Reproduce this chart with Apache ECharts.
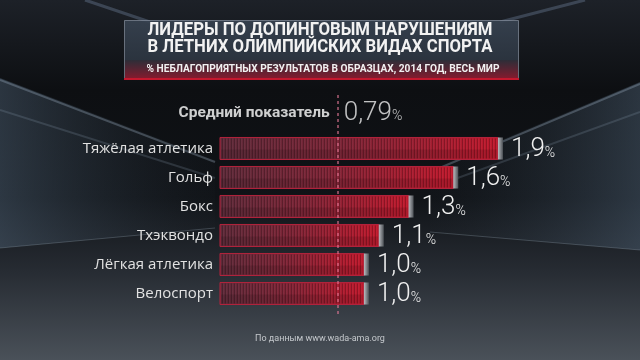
<!DOCTYPE html>
<html><head><meta charset="utf-8">
<script src="https://cdn.jsdelivr.net/npm/echarts@6/dist/echarts.min.js"></script>
<style>html,body{margin:0;padding:0;background:#0e1013;}#c{width:640px;height:360px;}</style>
</head><body><div id="c"></div>
<script>
const categories = ['Тяжёлая атлетика', 'Гольф', 'Бокс', 'Тхэквондо', 'Лёгкая атлетика', 'Велоспорт'];
const values = [1.9, 1.6, 1.3, 1.1, 1.0, 1.0];
const averageLabel = 'Средний показатель';
const averageValue = 0.79;
const titleLines = ['ЛИДЕРЫ ПО ДОПИНГОВЫМ НАРУШЕНИЯМ', 'В ЛЕТНИХ ОЛИМПИЙСКИХ ВИДАХ СПОРТА'];
const subtitle = '% НЕБЛАГОПРИЯТНЫХ РЕЗУЛЬТАТОВ В ОБРАЗЦАХ, 2014 ГОД, ВЕСЬ МИР';
const source = 'По данным www.wada-ama.org';

const fmt = v => v.toString().replace('.', ',');
const fmt1 = v => v.toFixed(1).replace('.', ',');

// stripe pattern
const pc = document.createElement('canvas');
pc.width = 3; pc.height = 4;
const pctx = pc.getContext('2d');
pctx.fillStyle = 'rgba(0,0,0,0.22)';
pctx.fillRect(0, 0, 1, 4);
pctx.fillStyle = 'rgba(255,255,255,0.04)';
pctx.fillRect(1, 0, 1, 4);

// text measuring for condensed title
const mc = document.createElement('canvas').getContext('2d');
function fitScale(text, font, target) {
  mc.font = font;
  return target / mc.measureText(text).width;
}
const titleFont = 'bold 19px Roboto, sans-serif';
const subFont = 'bold 11px Roboto, sans-serif';
const s1 = fitScale(titleLines[0], titleFont, 345);
const s2 = fitScale(titleLines[1], titleFont, 345);
const s3 = fitScale(subtitle, subFont, 353);

const chart = echarts.init(document.getElementById('c'), null, {renderer: 'canvas'});

const option = {
  backgroundColor: {
    type: 'linear', x: 0, y: 0, x2: 0, y2: 1,
    colorStops: [
      {offset: 0, color: '#1d2128'},
      {offset: 0.25, color: '#0d0f12'},
      {offset: 0.55, color: '#101317'},
      {offset: 0.75, color: '#262b32'},
      {offset: 1, color: '#4a5159'}
    ]
  },
  animation: false,
  graphic: [
    // left stands
    {type: 'polygon', z: -10, shape: {points: [[0, 78], [215, 160], [215, 228], [0, 248]]},
     style: {fill: {type: 'linear', x: 0, y: 0, x2: 1, y2: 0, colorStops: [{offset: 0, color: 'rgba(80,100,120,0.45)'}, {offset: 1, color: 'rgba(40,50,60,0.05)'}]}}},
    {type: 'polyline', z: -9, shape: {points: [[0, 80], [215, 162]]}, style: {stroke: 'rgba(170,190,210,0.3)', lineWidth: 2}},
    {type: 'polyline', z: -9, shape: {points: [[0, 110], [215, 178]]}, style: {stroke: 'rgba(150,170,190,0.2)', lineWidth: 2}},
    {type: 'polyline', z: -9, shape: {points: [[0, 248], [215, 228]]}, style: {stroke: 'rgba(150,165,180,0.3)', lineWidth: 1}},
    // right stands
    {type: 'polygon', z: -10, shape: {points: [[640, 82], [430, 170], [430, 232], [640, 250]]},
     style: {fill: {type: 'linear', x: 1, y: 0, x2: 0, y2: 0, colorStops: [{offset: 0, color: 'rgba(80,100,120,0.45)'}, {offset: 1, color: 'rgba(40,50,60,0.05)'}]}}},
    {type: 'polyline', z: -9, shape: {points: [[640, 84], [430, 172]]}, style: {stroke: 'rgba(170,190,210,0.3)', lineWidth: 2}},
    {type: 'polyline', z: -9, shape: {points: [[640, 112], [430, 188]]}, style: {stroke: 'rgba(150,170,190,0.2)', lineWidth: 2}},
    {type: 'polyline', z: -9, shape: {points: [[640, 250], [430, 232]]}, style: {stroke: 'rgba(150,165,180,0.3)', lineWidth: 1}},
    // roof beams
    {type: 'polyline', z: -9, shape: {points: [[85, 0], [150, 22]]}, style: {stroke: 'rgba(120,140,170,0.35)', lineWidth: 3}},
    {type: 'polyline', z: -9, shape: {points: [[585, 0], [500, 22]]}, style: {stroke: 'rgba(120,140,170,0.35)', lineWidth: 3}},
    // title box
    {type: 'rect', z: 5, shape: {x: 124.5, y: 20.5, width: 394, height: 59},
     style: {fill: {type: 'linear', x: 0, y: 0, x2: 0, y2: 1, colorStops: [{offset: 0, color: 'rgba(55,66,80,0.92)'}, {offset: 1, color: 'rgba(40,48,58,0.92)'}]},
       stroke: 'rgba(150,160,175,0.6)', lineWidth: 1}},
    {type: 'rect', z: 6, shape: {x: 125, y: 60, width: 393, height: 19},
     style: {fill: {type: 'linear', x: 0, y: 0, x2: 0, y2: 1, colorStops: [{offset: 0, color: 'rgba(45,45,55,0.9)'}, {offset: 1, color: 'rgba(140,25,45,0.95)'}]}}},
    {type: 'rect', z: 7, shape: {x: 124, y: 78, width: 395, height: 2}, style: {fill: '#c4182e'}},
    {type: 'text', z: 8, x: 320, y: 30, scaleX: s1, originX: 0, originY: 0,
     style: {text: titleLines[0], fill: '#f2f2f2', font: titleFont, align: 'center', verticalAlign: 'middle'}},
    {type: 'text', z: 8, x: 320, y: 47, scaleX: s2, originX: 0, originY: 0,
     style: {text: titleLines[1], fill: '#f2f2f2', font: titleFont, align: 'center', verticalAlign: 'middle'}},
    {type: 'text', z: 8, x: 323, y: 69, scaleX: s3, originX: 0, originY: 0,
     style: {text: subtitle, fill: '#f0f0f0', font: subFont, align: 'center', verticalAlign: 'middle'}},
    {type: 'text', z: 8, x: 320, y: 339, style: {text: source, fill: '#c4c8cc', font: '9px Roboto, sans-serif', align: 'center', verticalAlign: 'middle'}}
  ],
  grid: [
    {left: 220, width: 417, top: 134, height: 174},
    {left: 220, width: 417, top: 92, height: 222}
  ],
  xAxis: [
    {type: 'value', min: 0, max: 2.8, gridIndex: 0, show: false},
    {type: 'value', min: 0, max: 2.8, gridIndex: 1, show: false}
  ],
  yAxis: [
    {type: 'category', data: categories, inverse: true, gridIndex: 0,
     axisLine: {show: false}, axisTick: {show: false}, splitLine: {show: false},
     axisLabel: {color: '#e2e2e2', fontSize: 15, fontFamily: "'Open Sans', sans-serif", margin: 7}},
    {type: 'value', min: 0, max: 1, gridIndex: 1, show: false}
  ],
  series: [
    {
      type: 'custom', xAxisIndex: 0, yAxisIndex: 0, z: 3,
      data: values.map((v, i) => [v, i]),
      encode: {x: 0, y: 1},
      renderItem: function (params, api) {
        const v = api.value(0);
        const idx = api.value(1);
        const s = api.coord([0, idx]);
        const e = api.coord([v, idx]);
        const bh = api.size([0, 1])[1] * 0.76;
        const capW = 5;
        const y0 = s[1] - bh / 2;
        const bodyW = e[0] - s[0] - capW;
        return {
          type: 'group',
          children: [
            {type: 'rect', shape: {x: s[0], y: y0, width: bodyW, height: bh},
             style: {fill: {type: 'linear', x: 0, y: 0, x2: 1, y2: 0, colorStops: [
               {offset: 0, color: '#5e2a39'}, {offset: 0.45, color: '#7e2436'}, {offset: 1, color: '#c0182c'}]},
               stroke: '#b3233c', lineWidth: 1}},
            {type: 'rect', shape: {x: s[0] + 1, y: y0 + 1, width: bodyW - 2, height: bh - 2},
             style: {fill: {image: pc, repeat: 'repeat'}}},
            {type: 'rect', shape: {x: s[0] + 1, y: y0 + bh * 0.55, width: bodyW - 2, height: bh * 0.45 - 1},
             style: {fill: 'rgba(0,0,0,0.12)'}},
            {type: 'rect', shape: {x: s[0] + bodyW, y: y0, width: capW, height: bh},
             style: {fill: {type: 'linear', x: 0, y: 0, x2: 1, y2: 0, colorStops: [
               {offset: 0, color: '#b9bcc0'}, {offset: 1, color: '#4c5055'}]}}},
            {type: 'text', x: e[0] + 8, y: s[1] + 1,
             style: {text: '{n|' + fmt1(v) + '}{p|%}', verticalAlign: 'middle', align: 'left',
               rich: {n: {fontSize: 26, fontWeight: 300, fontFamily: 'Roboto, sans-serif', fill: '#f0f0f0', color: '#f0f0f0'},
                      p: {fontSize: 14, fontWeight: 300, fontFamily: 'Roboto, sans-serif', fill: '#f0f0f0', color: '#f0f0f0', padding: [7, 0, 0, 0]}}}}
          ]
        };
      }
    },
    {
      type: 'scatter', xAxisIndex: 1, yAxisIndex: 1, symbolSize: 0.1, z: 4,
      data: [
        {value: [averageValue, 0.905], label: {show: true, position: 'left', distance: 8, formatter: averageLabel,
          color: '#ffffff', fontSize: 15.5, fontWeight: 'bold', fontFamily: 'Roboto, sans-serif'}},
        {value: [averageValue, 0.905], label: {show: true, position: 'right', distance: 6,
          formatter: '{n|' + fmt(averageValue) + '}{p|%}',
          rich: {n: {fontSize: 26, fontWeight: 300, fontFamily: 'Roboto, sans-serif', color: '#f0f0f0'},
                 p: {fontSize: 14, fontWeight: 300, fontFamily: 'Roboto, sans-serif', color: '#f0f0f0', padding: [7, 0, 0, 0]}}}}
      ],
      markLine: {
        silent: true, symbol: 'none', animation: false,
        lineStyle: {color: 'rgba(225,120,150,0.75)', type: [3, 3], width: 1.5},
        label: {show: false},
        data: [{xAxis: averageValue}]
      }
    }
  ]
};
chart.setOption(option);
</script>
</body></html>
